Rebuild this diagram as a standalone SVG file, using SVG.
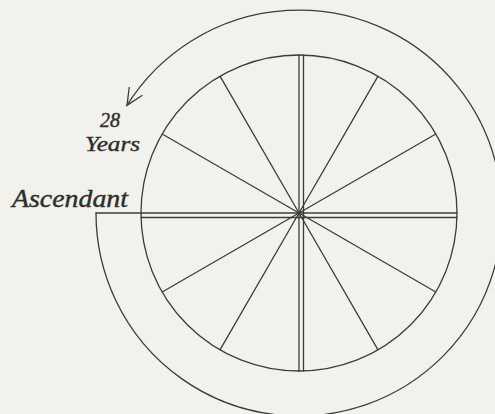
<svg xmlns="http://www.w3.org/2000/svg" width="495" height="414" viewBox="0 0 495 414">
<style>
.ln{fill:none;stroke:#3c3c3c;stroke-width:1.3;stroke-linecap:round}
.lbl{font-family:"Liberation Serif","DejaVu Serif",serif;font-style:italic;fill:#2e2e2e;stroke:#2e2e2e;stroke-width:0.4}
</style>
<rect width="495" height="414" fill="#f2f2ec"/>
<g id="wheel">
<circle class="ln" cx="299" cy="213" r="158"/>
<line class="ln" x1="299" y1="55" x2="299" y2="371"/>
<line class="ln" x1="303.5" y1="55" x2="303.5" y2="371"/>
<line class="ln" x1="96" y1="213" x2="457" y2="213"/>
<line class="ln" x1="141" y1="217.5" x2="457" y2="217.5"/>
<g id="spokes">
<line class="ln" x1="299" y1="213" x2="435.8" y2="134"/>
<line class="ln" x1="299" y1="213" x2="378" y2="76.2"/>
<line class="ln" x1="299" y1="213" x2="220" y2="76.2"/>
<line class="ln" x1="299" y1="213" x2="162.2" y2="134"/>
<line class="ln" x1="299" y1="213" x2="162.2" y2="292"/>
<line class="ln" x1="299" y1="213" x2="220" y2="349.8"/>
<line class="ln" x1="299" y1="213" x2="378" y2="349.8"/>
<line class="ln" x1="299" y1="213" x2="435.8" y2="292"/>
</g>
</g>
<g id="connectors">
<path class="ln" d="M96 213 A203 203 0 1 0 126.9 105.4"/>
<polyline class="ln" points="142,95.5 127,105.4 129.2,87.5"/>
</g>
<g id="labels">
<text class="lbl" x="110" y="127" font-size="20" text-anchor="middle">28</text>
<text class="lbl" x="85" y="151" font-size="21" textLength="55" lengthAdjust="spacingAndGlyphs">Years</text>
<text class="lbl" x="12" y="207" font-size="25" textLength="116" lengthAdjust="spacingAndGlyphs">Ascendant</text>
</g>
</svg>
